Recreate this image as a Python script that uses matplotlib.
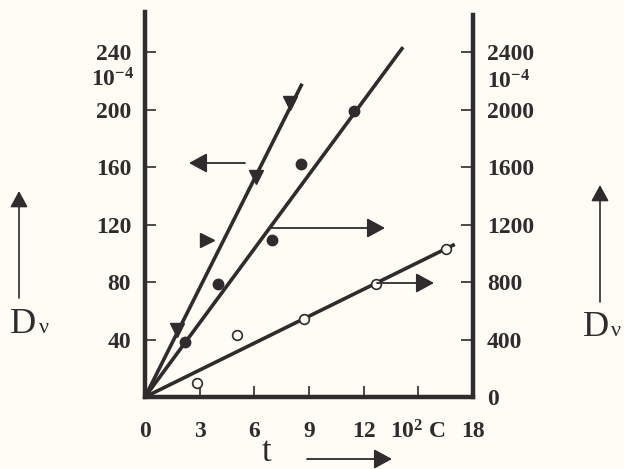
import matplotlib as mpl
import matplotlib.pyplot as plt
from matplotlib.patches import FancyArrowPatch

# data
# triangles: read on the left axis (D_v, 10^-4)
tri_t = [1.76, 3.4, 6.09, 7.96]
tri_d = [46.6, 109.0, 153.0, 204.5]

# filled circles: read on the right axis
dot_t = [2.2, 4.0, 6.97, 8.56, 11.47]
dot_d = [380, 786, 1090, 1620, 1990]

# open circles: read on the right axis
ring_t = [2.85, 5.05, 8.73, 12.7, 16.5]
ring_d = [100, 430, 540, 790, 1030]

# straight fits through the origin: slope and last t of each line
fit_slope_left = [25.3]
fit_end_left = [8.62]
fit_slope_right = [172.0, 62.5]
fit_end_right = [14.16, 17.0]

x_ticks = [0, 3, 6, 9, 12, 15, 18]
x_labels = ["0", "3", "6", "9", "12", "10$^{2}$ C", "18"]
left_ticks = [40, 80, 120, 160, 200, 240]
right_ticks = [0, 400, 800, 1200, 1600, 2000, 2400]

TRI_MARKERS = ["v", ">", "v", "v"]
INK = "#2e2c2c"
PAPER = "#fdfdf6"
TICK_SIZE = 17

mpl.rcParams.update({
  "font.family": "Liberation Serif",
  "mathtext.fontset": "custom",
  "mathtext.rm": "Liberation Serif:bold",
  "mathtext.bf": "Liberation Serif:bold",
  "mathtext.it": "Liberation Serif:bold",
  "mathtext.default": "rm",
})

W, H = 624, 469


def px(x, y):
  return (x / W, 1 - y / H)


fig = plt.figure(figsize=(W / 100, H / 100), dpi=100, facecolor=PAPER)
ax = fig.add_axes([145 / W, 72 / H, 328 / W, 385 / H])
ax.set_facecolor("none")
ax2 = ax.twinx()

ax.set_xlim(0, 18)
ax.set_ylim(0, 268)
ax2.set_ylim(0, 2680)

for name, spine in ax.spines.items():
  spine.set_visible(name in ("left", "bottom"))
  spine.set_linewidth(3.2)
  spine.set_color(INK)
for name, spine in ax2.spines.items():
  spine.set_visible(name == "right")
  spine.set_linewidth(3.2)
  spine.set_color(INK)
ax2.spines["right"].set_bounds(0, 2657)

ax.set_xticks(x_ticks)
ax.set_xticklabels(x_labels, fontweight="bold", fontsize=TICK_SIZE)
ax.set_yticks(left_ticks)
ax.set_yticklabels([str(v) for v in left_ticks], fontweight="bold",
                   fontsize=TICK_SIZE)
ax2.set_yticks(right_ticks)
ax2.set_yticklabels([str(v) for v in right_ticks], fontweight="bold",
                    fontsize=TICK_SIZE)

ax.tick_params(axis="x", direction="in", length=8, width=1.2, pad=17,
               colors=INK)
ax.tick_params(axis="y", direction="in", length=8, width=1.2, pad=10,
               colors=INK)
ax2.tick_params(axis="y", direction="in", length=9, width=1.2, pad=10,
                colors=INK)
# no tick marks where the bottom / right spines already are
ax.xaxis.get_major_ticks()[0].tick1line.set_visible(False)
ax.xaxis.get_major_ticks()[-1].tick1line.set_visible(False)
ax2.yaxis.get_major_ticks()[0].tick2line.set_visible(False)

# fitted lines
for slope, end in zip(fit_slope_left, fit_end_left):
  ax.plot([0, end], [0, slope * end], color=INK, lw=2.6,
          solid_capstyle="butt", clip_on=False, zorder=3)
for slope, end in zip(fit_slope_right, fit_end_right):
  ax2.plot([0, end], [0, slope * end], color=INK, lw=2.6,
           solid_capstyle="butt", clip_on=False, zorder=3)

# measured points
for t, d, m in zip(tri_t, tri_d, TRI_MARKERS):
  ax.plot(t, d, marker=m, ms=10, color=INK, mec=INK, ls="none", zorder=4)
ax2.plot(dot_t, dot_d, "o", ms=7.5, color=INK, mec=INK, zorder=4)
ax2.plot(ring_t, ring_d, "o", ms=7, mfc=PAPER, mec=INK, mew=1.2, zorder=4)

# scale factor notes under the top labels
fig.text(*px(113, 80), "10$^{-4}$", ha="center", va="center",
         fontsize=TICK_SIZE, fontweight="bold", color=INK)
fig.text(*px(487, 82), "10$^{-4}$", ha="left", va="center",
         fontsize=TICK_SIZE, fontweight="bold", color=INK)


def arrow(start, end, lw=1.3, scale=20):
  patch = FancyArrowPatch(
    px(*start), px(*end), transform=fig.transFigure,
    arrowstyle="-|>,head_length=0.55,head_width=0.3",
    mutation_scale=scale, lw=lw, color=INK, shrinkA=0, shrinkB=0,
  )
  fig.add_artist(patch)


# arrows pointing each series to its axis
arrow((245, 163), (189, 163))
arrow((270, 228), (385, 228))
arrow((377, 283), (434, 283))
# axis direction arrows
arrow((307, 459), (392, 459))
arrow((19, 298), (19, 191), lw=1.2, scale=18)
arrow((600, 302), (600, 185), lw=1.2, scale=18)

# axis names
fig.text(*px(10, 333), "D", ha="left", va="baseline", fontsize=26, color=INK)
fig.text(*px(39, 333), "ν", ha="left", va="baseline", fontsize=16, color=INK)
fig.text(*px(583, 336), "D", ha="left", va="baseline", fontsize=26,
         color=INK)
fig.text(*px(611, 336), "ν", ha="left", va="baseline", fontsize=16,
         color=INK)
fig.text(*px(267, 461), "t", ha="center", va="baseline", fontsize=25,
         color=INK)

fig.savefig("out.png", dpi=100, facecolor=PAPER)
